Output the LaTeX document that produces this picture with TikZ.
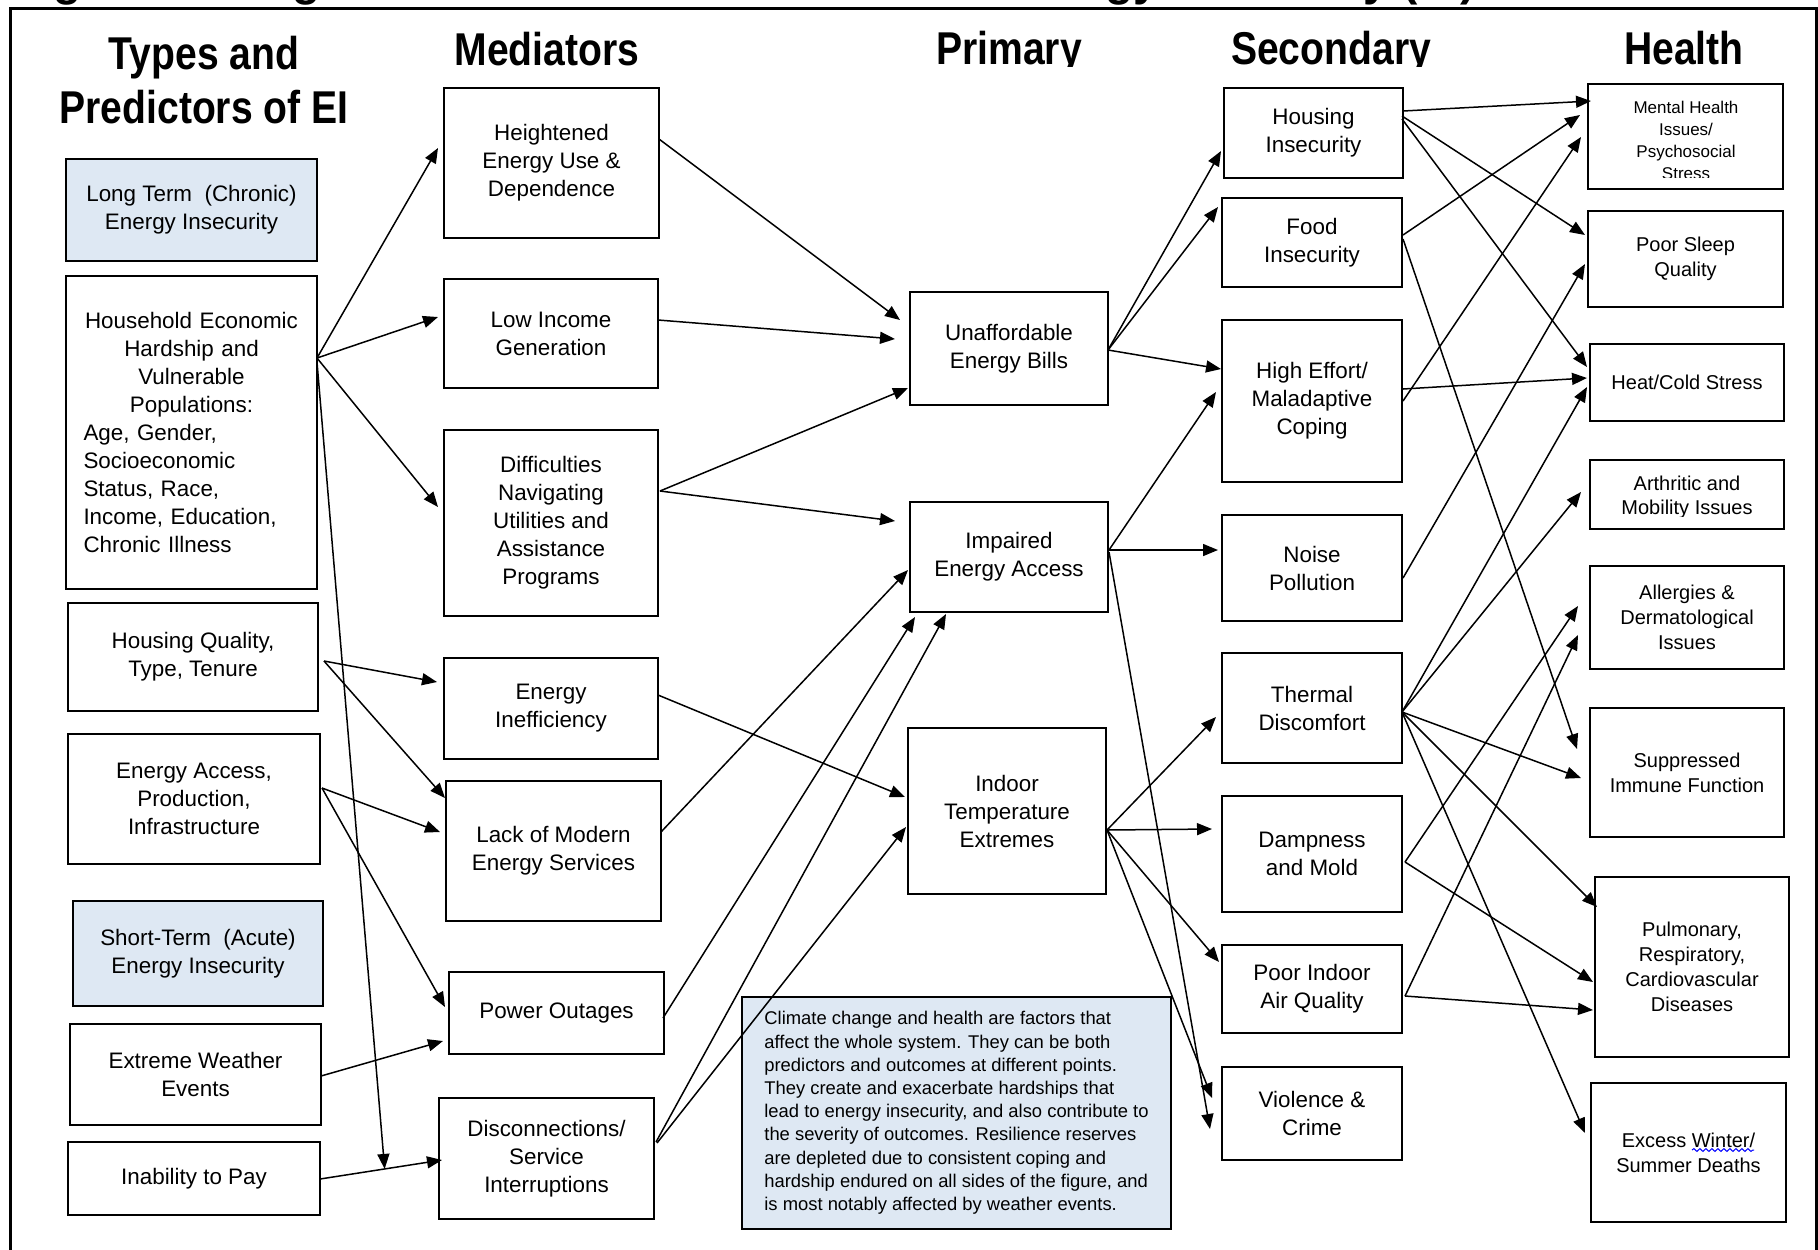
\documentclass[tikz,border=0pt]{standalone}
\usepackage{fontspec}
\setmainfont{Liberation Sans}
\newfontfamily\headfont[FakeStretch=0.85]{Liberation Sans}
\usetikzlibrary{arrows.meta,calc,decorations.pathmorphing}
\definecolor{eiblue}{RGB}{222,232,243}
\tikzset{
  box/.style={draw, line width=1pt, inner sep=0pt, outer sep=0pt, align=center,
    font=\fontsize{11.2}{14}\selectfont},
  bluebox/.style={fill=eiblue},
  hbox/.style={font=\fontsize{10}{12.5}\selectfont},
  conn/.style={line width=0.75pt, -{Triangle[length=7.5pt,width=6pt]}},
  heading/.style={font=\headfont\bfseries\fontsize{23}{27}\selectfont, inner sep=0pt, anchor=base},
  smalltext/.style={inner sep=0pt, align=center},
}
\newcommand\mkbox[7][]{%
  \pgfmathsetmacro\bxcx{(#3+#5)/2}%
  \pgfmathsetmacro\bxcy{(#4+#6)/2}%
  \pgfmathsetmacro\bxw{(#5-#3)*0.5}%
  \pgfmathsetmacro\bxh{(#6-#4)*0.5}%
  \node[box,#1,minimum width=\bxw pt,minimum height=\bxh pt] (#2) at (\bxcx,\bxcy) {#7};}
\begin{document}
\begin{tikzpicture}[x=0.5pt,y=-0.5pt]
\useasboundingbox (0,0) rectangle (1818,1249);
\fill[white] (0,0) rectangle (1818,1249);
% cut-off title and frame
\node[font=\bfseries\fontsize{23}{27}\selectfont, anchor=base west, inner sep=0pt] (title) at (12,-5) {Figure 1. Diagram of the Health Outcomes of Energy Insecurity (EI)};
\draw[line width=1.1pt] (10.5,1270) -- (10.5,8.5) -- (1816.5,8.5) -- (1816.5,1270);
% headings
\node[heading] (hd1) at (204,69) {Types and};
\node[heading] (hd1b) at (204,123) {Predictors of EI};
\node[heading] (hd2) at (547,65) {Mediators};
\begin{scope}
  \clip (850,0) rectangle (1500,66.5);
  \node[heading] (hd3) at (1009,64) {Primary};
  \node[heading] (hd4) at (1331,64) {Secondary};
\end{scope}
\node[heading] (hd5) at (1684,64) {Health};
% column 1
\mkbox[bluebox]{lt}{66}{159}{317}{261}{Long Term~ (Chronic)\\Energy Insecurity}
\mkbox[text width=108pt, align=left]{hh}{66}{276}{317}{589}{{\centering Household Economic\\Hardship and\\Vulnerable\\Populations:\par}\noindent Age, Gender,\\Socioeconomic\\Status, Race,\\Income, Education,\\Chronic Illness}
\mkbox{hq}{68}{603}{318}{711}{Housing Quality,\\Type, Tenure}
\mkbox{ea}{68}{734}{320}{864}{Energy Access,\\Production,\\Infrastructure}
\mkbox[bluebox]{st}{73}{901}{323}{1006}{Short-Term~ (Acute)\\Energy Insecurity}
\mkbox{ew}{70}{1024}{321}{1125}{Extreme Weather\\Events}
\mkbox{inab}{68}{1142}{320}{1215}{Inability to Pay}
% mediators
\mkbox{m1}{444}{88}{659}{238}{Heightened\\Energy Use \&\\Dependence}
\mkbox{m2}{444}{279}{658}{388}{Low Income\\Generation}
\mkbox{m3}{444}{430}{658}{616}{Difficulties\\Navigating\\Utilities and\\Assistance\\Programs}
\mkbox{m4}{444}{658}{658}{759}{Energy\\Inefficiency}
\mkbox{m5}{446}{781}{661}{921}{Lack of Modern\\Energy Services}
\mkbox{m6}{449}{972}{664}{1054}{Power Outages}
\mkbox{m7}{439}{1098}{654}{1219}{Disconnections/\\Service\\Interruptions}
% primary
\mkbox{p1}{910}{292}{1108}{405}{Unaffordable\\Energy Bills}
\mkbox{p2}{910}{502}{1108}{612}{Impaired\\Energy Access}
\mkbox{p3}{908}{728}{1106}{894}{Indoor\\Temperature\\Extremes}
% secondary
\mkbox{s1}{1224}{88}{1403}{178}{Housing\\Insecurity}
\mkbox{s2}{1222}{198}{1402}{287}{Food\\Insecurity}
\mkbox{s3}{1222}{320}{1402}{482}{High Effort/\\Maladaptive\\Coping}
\mkbox{s4}{1222}{515}{1402}{621}{Noise\\Pollution}
\mkbox{s5}{1222}{653}{1402}{763}{Thermal\\Discomfort}
\mkbox{s6}{1222}{796}{1402}{912}{Dampness\\and Mold}
\mkbox{s7}{1222}{945}{1402}{1033}{Poor Indoor\\Air Quality}
\mkbox{s8}{1222}{1067}{1402}{1160}{Violence \&\\Crime}
% health
\mkbox[hbox]{h1}{1588}{84}{1783}{189}{}
\begin{scope}
  \clip (1590,86) rectangle (1781,177);
  \node[smalltext, font=\fontsize{8.5}{11.05}\selectfont] (h1t) at (1686,140.5) {Mental Health\\Issues/\\Psychosocial\\Stress};
\end{scope}
\mkbox[hbox]{h2}{1588}{211}{1783}{307}{Poor Sleep\\Quality}
\mkbox[hbox]{h3}{1590}{344}{1784}{421}{Heat/Cold Stress}
\mkbox[hbox]{h4}{1590}{460}{1784}{529}{}
\begin{scope}
  \clip (1592,462) rectangle (1782,516);
  \node[smalltext, font=\fontsize{10}{11.7}\selectfont] (h4t) at (1687,497.5) {Arthritic and\\Mobility Issues};
\end{scope}
\mkbox[hbox]{h5}{1590}{566}{1784}{669}{Allergies \&\\Dermatological\\Issues}
\mkbox[hbox]{h6}{1590}{708}{1784}{837}{Suppressed\\Immune Function}
\mkbox[hbox]{h7}{1595}{877}{1789}{1057}{Pulmonary,\\Respiratory,\\Cardiovascular\\Diseases}
\mkbox[hbox]{h8}{1591}{1083}{1786}{1222}{Excess Winter/\\Summer Deaths}
\draw[blue, line width=0.5pt, decorate, decoration={snake, amplitude=0.7pt, segment length=3pt}] ([shift={(101,67)}]h8.north west) -- ([shift={(163,67)}]h8.north west);
% climate note
\mkbox[bluebox, align=left, font=\fontsize{9.2}{11.6}\selectfont]{cb}{742}{997}{1171}{1229}{Climate change and health are factors that\\affect the whole system. They can be both\\predictors and outcomes at different points.\\They create and exacerbate hardships that\\lead to energy insecurity, and also contribute to\\the severity of outcomes. Resilience reserves\\are depleted due to consistent coping and\\hardship endured on all sides of the figure, and\\is most notably affected by weather events.}
% ---------- connectors: predictors -> mediators
\coordinate (ipS) at ([shift={(252,37)}]inab.north west);
\coordinate (ipE) at ([shift={(3,62)}]m7.north west);
\coordinate (ip) at ($(ipS)!0.53!(ipE)$);
\draw[conn] ([shift={(251,82)}]hh.north west) -- ([shift={(-6,60)}]m1.north west);
\draw[conn] ([shift={(251,82)}]hh.north west) -- ([shift={(-6,38)}]m2.north west);
\draw[conn] ([shift={(251,82)}]hh.north west) -- ([shift={(-6,77)}]m3.north west);
\draw[conn] ([shift={(251,86)}]hh.north west) -- (ip);
\draw[conn] ([shift={(256,58)}]hq.north west) -- ([shift={(-7,24)}]m4.north west);
\draw[conn] ([shift={(256,58)}]hq.north west) -- ([shift={(-1,17)}]m5.north west);
\draw[conn] ([shift={(254,54)}]ea.north west) -- ([shift={(-6,51)}]m5.north west);
\draw[conn] ([shift={(254,54)}]ea.north west) -- ([shift={(-4,35)}]m6.north west);
\draw[conn] ([shift={(251,52)}]ew.north west) -- ([shift={(-6,69)}]m6.north west);
\draw[conn] (ipS) -- (ipE);
% mediators -> primary
\draw[conn] ([shift={(215,51)}]m1.north west) -- ([shift={(-10,28)}]p1.north west);
\draw[conn] ([shift={(214,41)}]m2.north west) -- ([shift={(-15,47)}]p1.north west);
\draw[conn] ([shift={(216,61)}]m3.north west) -- ([shift={(-2,96)}]p1.north west);
\draw[conn] ([shift={(216,61)}]m3.north west) -- ([shift={(-15,19)}]p2.north west);
\draw[conn] ([shift={(214,37)}]m4.north west) -- ([shift={(-3,69)}]p3.north west);
\draw[conn] ([shift={(215,51)}]m5.north west) -- ([shift={(-2,68)}]p2.north west);
\draw[conn] ([shift={(214,46)}]m6.north west) -- ([shift={(5,115)}]p2.north west);
\draw[conn] ([shift={(217,44)}]m7.north west) -- ([shift={(36,112)}]p2.north west);
\draw[conn] ([shift={(218,45)}]m7.north west) -- ([shift={(-2,99)}]p3.north west);
% primary -> secondary
\draw[conn] ([shift={(198,58)}]p1.north west) -- ([shift={(-3,63)}]s1.north west);
\draw[conn] ([shift={(198,58)}]p1.north west) -- ([shift={(-4,9)}]s2.north west);
\draw[conn] ([shift={(198,58)}]p1.north west) -- ([shift={(-1,49)}]s3.north west);
\draw[conn] ([shift={(199,48)}]p2.north west) -- ([shift={(-6,72)}]s3.north west);
\draw[conn] ([shift={(199,48)}]p2.north west) -- ([shift={(-4,35)}]s4.north west);
\draw[conn] ([shift={(199,50)}]p2.north west) -- ([shift={(-12,62)}]s8.north west);
\draw[conn] ([shift={(199,102)}]p3.north west) -- ([shift={(-6,64)}]s5.north west);
\draw[conn] ([shift={(199,102)}]p3.north west) -- ([shift={(-10,33)}]s6.north west);
\draw[conn] ([shift={(199,102)}]p3.north west) -- ([shift={(-3,17)}]s7.north west);
\draw[conn] ([shift={(199,102)}]p3.north west) -- ([shift={(-10,31)}]s8.north west);
% secondary -> health
\draw[conn] ([shift={(179,23)}]s1.north west) -- ([shift={(3,17)}]h1.north west);
\draw[conn] ([shift={(178,28)}]s1.north west) -- ([shift={(-3,24)}]h2.north west);
\draw[conn] ([shift={(178,31)}]s1.north west) -- ([shift={(-3,23)}]h3.north west);
\draw[conn] ([shift={(181,37)}]s2.north west) -- ([shift={(-8,31)}]h1.north west);
\draw[conn] ([shift={(181,41)}]s2.north west) -- ([shift={(-13,41)}]h6.north west);
\draw[conn] ([shift={(181,81)}]s3.north west) -- ([shift={(-7,53)}]h1.north west);
\draw[conn] ([shift={(181,69)}]s3.north west) -- ([shift={(-3,34)}]h3.north west);
\draw[conn] ([shift={(181,63)}]s4.north west) -- ([shift={(-3,53)}]h2.north west);
\draw[conn] ([shift={(180,59)}]s5.north west) -- ([shift={(-3,43)}]h3.north west);
\draw[conn] ([shift={(180,59)}]s5.north west) -- ([shift={(-9,32)}]h4.north west);
\draw[conn] ([shift={(180,59)}]s5.north west) -- ([shift={(-9,70)}]h6.north west);
\draw[conn] ([shift={(180,59)}]s5.north west) -- ([shift={(2,30)}]h7.north west);
\draw[conn] ([shift={(180,59)}]s5.north west) -- ([shift={(-6,50)}]h8.north west);
\draw[conn] ([shift={(183,66)}]s6.north west) -- ([shift={(-12,40)}]h5.north west);
\draw[conn] ([shift={(183,66)}]s6.north west) -- ([shift={(-2,105)}]h7.north west);
\draw[conn] ([shift={(183,51)}]s7.north west) -- ([shift={(-12,69)}]h5.north west);
\draw[conn] ([shift={(183,51)}]s7.north west) -- ([shift={(-2,133)}]h7.north west);
\end{tikzpicture}
\end{document}
